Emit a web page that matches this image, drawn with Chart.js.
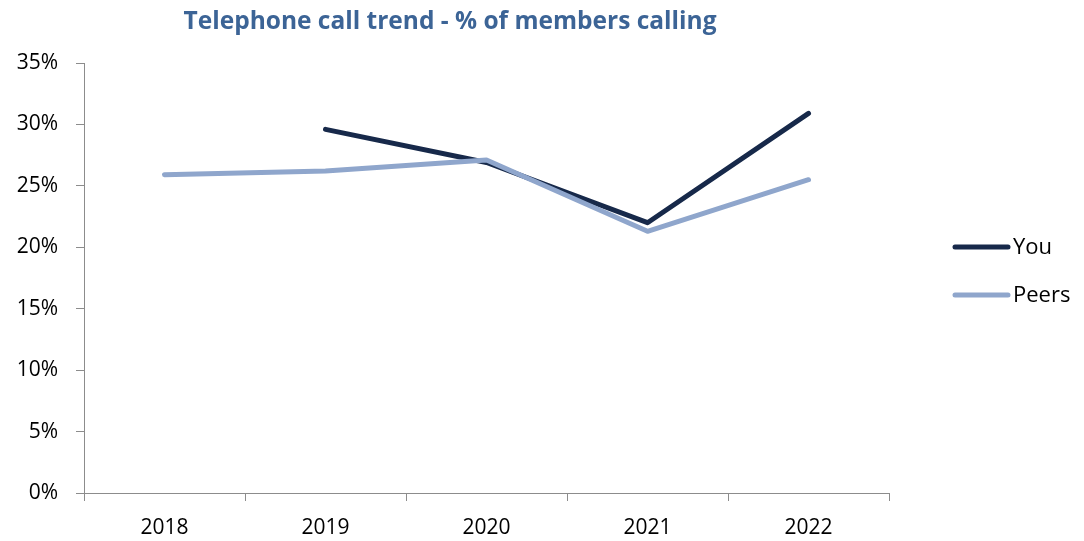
<!DOCTYPE html>
<html>
<head>
<meta charset="utf-8">
<title>Telephone call trend</title>
<script src="https://cdn.jsdelivr.net/npm/chart.js@4/dist/chart.umd.min.js"></script>
<style>
  html, body { margin: 0; padding: 0; background: #fff; }
  #wrap { width: 1084px; height: 541px; position: relative; }
</style>
</head>
<body>
<div id="wrap"><canvas id="callChart"></canvas></div>
<script>
var years = ['2018', '2019', '2020', '2021', '2022'];
var youValues = [null, 29.6, 26.9, 22.0, 30.9];
var peerValues = [25.9, 26.2, 27.1, 21.3, 25.5];
var yTicks = [0, 5, 10, 15, 20, 25, 30, 35];

var chartTitle = 'Telephone call trend - % of members calling';
var fontName = '"Open Sans", Lato, sans-serif';
var axisGrey = '#8c8c8c';

// title sits a bit left of centre, over the plot
var titlePlugin = {
    id: 'topTitle',
    afterDraw: function (chart) {
        var ctx = chart.ctx;
        ctx.save();
        ctx.font = 'bold 24.5px ' + fontName;
        ctx.fillStyle = '#3c6496';
        ctx.textAlign = 'center';
        ctx.textBaseline = 'alphabetic';
        ctx.fillText(chartTitle, 450, 29);
        ctx.restore();
    }
};

// legend on the right: a thick line swatch and the series name
var sideLegend = {
    id: 'sideLegend',
    afterDraw: function (chart) {
        var ctx = chart.ctx;
        var sets = chart.data.datasets;
        var x0 = chart.chartArea.right + 66;
        ctx.save();
        ctx.font = '22px ' + fontName;
        ctx.textBaseline = 'middle';
        ctx.lineCap = 'round';
        for (var i = 0; i < sets.length; i++) {
            var y = 247 + i * 48;
            ctx.strokeStyle = sets[i].borderColor;
            ctx.lineWidth = 5;
            ctx.beginPath();
            ctx.moveTo(x0, y);
            ctx.lineTo(x0 + 53, y);
            ctx.stroke();
            ctx.fillStyle = '#000';
            ctx.fillText(sets[i].label, x0 + 58, y + 1);
        }
        ctx.restore();
    }
};

var ourCanvas = document.getElementById('callChart');

var callChart = new Chart(ourCanvas, {
    type: 'line',
    data: {
        labels: years,
        datasets: [
            {
                label: 'You',
                data: youValues,
                borderColor: '#17294a',
                backgroundColor: '#17294a',
                borderWidth: 5,
                pointRadius: 0,
                borderCapStyle: 'round',
                borderJoinStyle: 'round',
                tension: 0,
                order: 2
            },
            {
                label: 'Peers',
                data: peerValues,
                borderColor: '#8fa6cc',
                backgroundColor: '#8fa6cc',
                borderWidth: 5,
                pointRadius: 0,
                borderCapStyle: 'round',
                borderJoinStyle: 'round',
                tension: 0,
                order: 1
            }
        ]
    },
    options: {
        responsive: true,
        maintainAspectRatio: false,
        animation: false,
        layout: {
            padding: { top: 63, right: 195, bottom: 0, left: 0 }
        },
        plugins: {
            legend: { display: false },
            title: { display: false },
            tooltip: { enabled: false }
        },
        scales: {
            x: {
                offset: true,
                grid: {
                    offset: true,
                    drawOnChartArea: false,
                    drawTicks: true,
                    tickLength: 8,
                    color: axisGrey
                },
                border: { color: axisGrey, width: 1 },
                ticks: {
                    color: '#000',
                    padding: 14,
                    font: { family: fontName, size: 21 }
                },
                afterFit: function (scale) { scale.height = 48; }
            },
            y: {
                min: 0,
                max: 35,
                afterBuildTicks: function (scale) {
                    scale.ticks = yTicks.map(function (v) { return { value: v }; });
                },
                grid: {
                    drawOnChartArea: false,
                    drawTicks: true,
                    tickLength: 8,
                    color: axisGrey
                },
                border: { color: axisGrey, width: 1 },
                ticks: {
                    color: '#000',
                    padding: 18,
                    font: { family: fontName, size: 21 },
                    callback: function (v) { return v + '%'; }
                },
                afterFit: function (scale) { scale.width = 84; }
            }
        }
    },
    plugins: [titlePlugin, sideLegend]
});
</script>
</body>
</html>
